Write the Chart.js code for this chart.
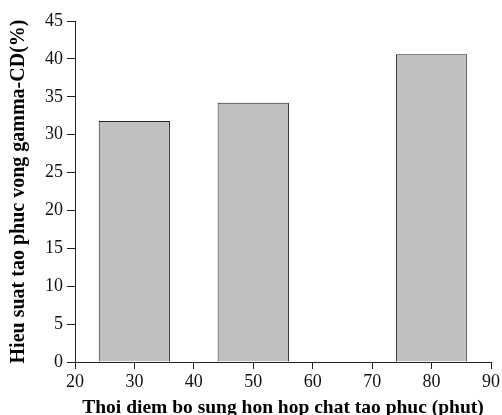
<!DOCTYPE html>
<html>
<head>
<meta charset="utf-8">
<script src="https://cdn.jsdelivr.net/npm/chart.js@4"></script>
<style>
  html, body { margin: 0; padding: 0; background: #fff; }
  #wrap { width: 502px; height: 415px; }
</style>
</head>
<body>
<div id="wrap"><canvas id="barChart" width="502" height="415"></canvas></div>
<script>
  // addition time (minutes) and complexation efficiency (%)
  const times = [30, 50, 80];
  const efficiency = [31.8, 34.2, 40.6];
  const xTicks = [20, 30, 40, 50, 60, 70, 80, 90];
  const yTicks = [0, 5, 10, 15, 20, 25, 30, 35, 40, 45];

  const axisColor = '#222';
  const serif = "'Liberation Serif', 'Times New Roman', serif";

  const ctx = document.getElementById('barChart').getContext('2d');
  new Chart(ctx, {
    type: 'bar',
    data: {
      datasets: [{
        data: times.map((t, i) => ({ x: t, y: efficiency[i] })),
        backgroundColor: '#c0c0c0',
        borderColor: '#222',
        borderWidth: 1,
        borderSkipped: 'bottom',
        categoryPercentage: 1.2,
        barPercentage: 1.0
      }]
    },
    options: {
      responsive: false,
      animation: false,
      layout: { padding: { top: 21, right: 10, left: 0, bottom: 0 } },
      plugins: { legend: { display: false }, tooltip: { enabled: false } },
      scales: {
        x: {
          type: 'linear',
          min: 20,
          max: 90,
          offset: false,
          afterBuildTicks: axis => { axis.ticks = xTicks.map(v => ({ value: v })); },
          afterFit: axis => { axis.height = 53; },
          grid: { drawOnChartArea: false, offset: false, tickLength: 7, color: axisColor },
          border: { color: axisColor, width: 1 },
          ticks: { color: '#111', font: { family: serif, size: 18 }, padding: 2, maxRotation: 0 },
          title: {
            display: true,
            text: 'Thoi diem bo sung hon hop chat tao phuc (phut)',
            color: '#000',
            font: { family: serif, size: 19.5, weight: 'bold', lineHeight: 0.7 },
            padding: { top: 0, bottom: 0 }
          }
        },
        y: {
          min: 0,
          max: 45,
          afterBuildTicks: axis => { axis.ticks = yTicks.map(v => ({ value: v })); },
          afterFit: axis => { axis.width = 75; },
          grid: { drawOnChartArea: false, tickLength: 8, color: axisColor },
          border: { color: axisColor, width: 1 },
          ticks: { color: '#111', font: { family: serif, size: 18 }, padding: 4 },
          title: {
            display: true,
            text: 'Hieu suat tao phuc vong gamma-CD(%)',
            color: '#000',
            font: { family: serif, size: 20, weight: 'bold', lineHeight: 1.2 },
            padding: { top: 7, bottom: 0 }
          }
        }
      }
    }
  });
</script>
</body>
</html>
